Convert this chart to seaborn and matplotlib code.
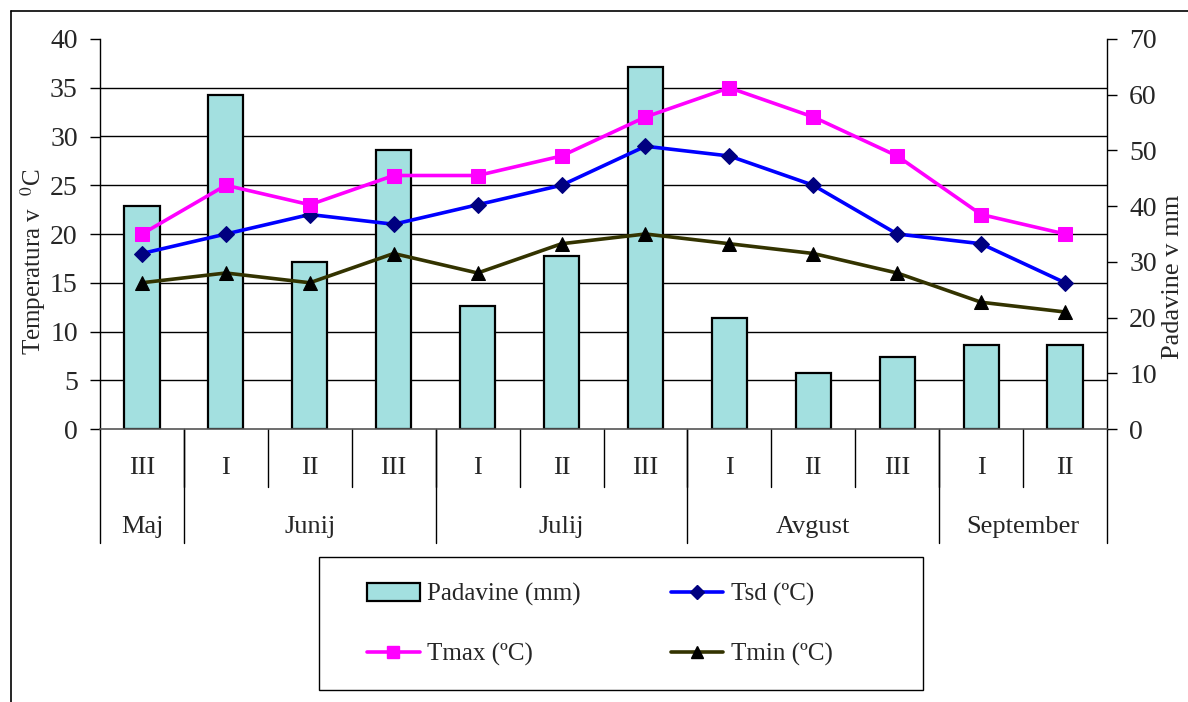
import numpy as np
import matplotlib
matplotlib.use("Agg")
import matplotlib.pyplot as plt
import matplotlib.transforms as mtransforms
from matplotlib.lines import Line2D
from matplotlib.patches import Patch, Rectangle
import seaborn as sns

# Ten-day periods (dekade) and their months
decades = ["III", "I", "II", "III", "I", "II", "III", "I", "II", "III", "I", "II"]
months = ["Maj", "Junij", "Julij", "Avgust", "September"]
month_spans = [1, 3, 3, 3, 2]  # number of decades in each month

# Precipitation (mm) and temperatures (°C)
padavine = [40, 60, 30, 50, 22, 31, 65, 20, 10, 13, 15, 15]
tsd = [18, 20, 22, 21, 23, 25, 29, 28, 25, 20, 19, 15]
tmax = [20, 25, 23, 26, 26, 28, 32, 35, 32, 28, 22, 20]
tmin = [15, 16, 15, 18, 16, 19, 20, 19, 18, 16, 13, 12]

temp_ticks = [0, 5, 10, 15, 20, 25, 30, 35, 40]
prec_ticks = [0, 10, 20, 30, 40, 50, 60, 70]

sns.set_theme(style="white")
plt.rcParams["font.family"] = ["Liberation Serif", "DejaVu Serif"]
plt.rcParams["mathtext.fontset"] = "stix"

W, H = 1188, 702
fig = plt.figure(figsize=(W / 100, H / 100), dpi=100)
ax_l, ax_b, ax_w, ax_h = 100, 429, 1007, 390
ax = fig.add_axes([ax_l / W, 1 - ax_b / H, ax_w / W, ax_h / H])
axp = ax.twinx()
# temperature lines drawn above the precipitation bars
ax.set_zorder(axp.get_zorder() + 1)
ax.patch.set_visible(False)

idx = np.arange(len(decades))

# precipitation bars on the right axis
sns.barplot(x=idx, y=padavine, ax=axp, color="#A3E0E0", saturation=1,
            width=0.42, edgecolor="black", linewidth=1.6, zorder=2)

# horizontal grid at temperature ticks, kept beneath the bars
blend = mtransforms.blended_transform_factory(axp.transAxes, ax.transData)
for t in temp_ticks[1:-1]:
    axp.plot([0, 1], [t, t], transform=blend, color="black", lw=1.0, zorder=0)

lw = 2.6
sns.lineplot(x=idx, y=tmin, ax=ax, color="#333300", lw=lw, marker="^",
             markersize=10, markerfacecolor="black", markeredgecolor="black")
sns.lineplot(x=idx, y=tsd, ax=ax, color="#0000FF", lw=lw, marker="D",
             markersize=8, markerfacecolor="#000080", markeredgecolor="#000080")
sns.lineplot(x=idx, y=tmax, ax=ax, color="#FF00FF", lw=lw, marker="s",
             markersize=10, markerfacecolor="#FF00FF", markeredgecolor="#FF00FF")

ax.set_xlim(-0.5, len(decades) - 0.5)
ax.set_ylim(0, 40)
axp.set_ylim(0, 70)
ax.set_yticks(temp_ticks)
axp.set_yticks(prec_ticks)
ax.set_xticks([])
axp.set_xticks([])
ax.set_xlabel("")
axp.set_xlabel("")

for a in (ax, axp):
    for s in a.spines.values():
        s.set_visible(False)
ax.spines["left"].set_visible(True)
ax.spines["left"].set_color("black")
ax.spines["left"].set_linewidth(1.0)
axp.spines["right"].set_visible(True)
axp.spines["right"].set_color("black")
axp.spines["right"].set_linewidth(1.0)
ax.spines["bottom"].set_visible(True)
ax.spines["bottom"].set_color("#555555")
ax.spines["bottom"].set_linewidth(1.2)

ax.tick_params(axis="y", which="major", left=True, direction="out", length=7,
               width=1, color="black", labelsize=20, pad=9)
axp.tick_params(axis="y", which="major", right=True, direction="out", length=7,
                width=1, color="black", labelsize=20, pad=9)

ax.set_ylabel("Temperatura v  $^{0}$C", fontsize=18)
axp.set_ylabel("Padavine v mm", fontsize=19, rotation=90)
ax.yaxis.label.set_va("center")
axp.yaxis.label.set_va("center")
ax.yaxis.set_label_coords((33 - ax_l) / ax_w, (ax_b - 262) / ax_h)
axp.yaxis.set_label_coords((1173 - ax_l) / ax_w, (ax_b - 277) / ax_h)

# two-level category axis below the plot
xt = ax.get_xaxis_transform()
for i, d in enumerate(decades):
    ax.text(i, -0.10, d, transform=xt, ha="center", va="center", fontsize=19)
# separators between decades
for b in np.arange(0.5, len(decades) - 0.5, 1.0):
    ax.plot([b, b], [0, -0.149], transform=xt, color="black", lw=1.0, clip_on=False)
# month boundaries and labels
edges = np.concatenate([[0], np.cumsum(month_spans)]) - 0.5
for e in edges:
    ax.plot([e, e], [0, -0.292], transform=xt, color="black", lw=1.0, clip_on=False)
for m, a, b in zip(months, edges[:-1], edges[1:]):
    ax.text((a + b) / 2, -0.250, m, transform=xt, ha="center", va="center", fontsize=19)

# legend
handles = [
    Patch(facecolor="#A3E0E0", edgecolor="black", linewidth=1.6),
    Line2D([], [], color="#FF00FF", lw=lw, marker="s", markersize=9,
           markerfacecolor="#FF00FF", markeredgecolor="#FF00FF"),
    Line2D([], [], color="#0000FF", lw=lw, marker="D", markersize=7,
           markerfacecolor="#000080", markeredgecolor="#000080"),
    Line2D([], [], color="#333300", lw=lw, marker="^", markersize=9,
           markerfacecolor="black", markeredgecolor="black"),
]
labels = ["Padavine (mm)", "Tmax (ºC)", "Tsd (ºC)", "Tmin (ºC)"]
leg = fig.legend(handles, labels, loc="center left",
                 bbox_to_anchor=(367 / W, 1 - 624.5 / H),
                 ncol=2, fontsize=18, frameon=False,
                 handlelength=2.1, handletextpad=0.3, columnspacing=3.6,
                 labelspacing=1.45, borderpad=0, borderaxespad=0)

# legend box
fig.add_artist(Rectangle((319 / W, 1 - 690 / H), (923 - 319) / W, (690 - 557) / H,
                         transform=fig.transFigure, facecolor="none",
                         edgecolor="black", lw=1.0))

# outer frame
fig.add_artist(Line2D([11 / W, 1.0], [1 - 11 / H, 1 - 11 / H],
                      transform=fig.transFigure, color="black", lw=1.2))
fig.add_artist(Line2D([11 / W, 11 / W], [0.0, 1 - 11 / H],
                      transform=fig.transFigure, color="black", lw=1.2))

fig.savefig("out.png", dpi=100)
